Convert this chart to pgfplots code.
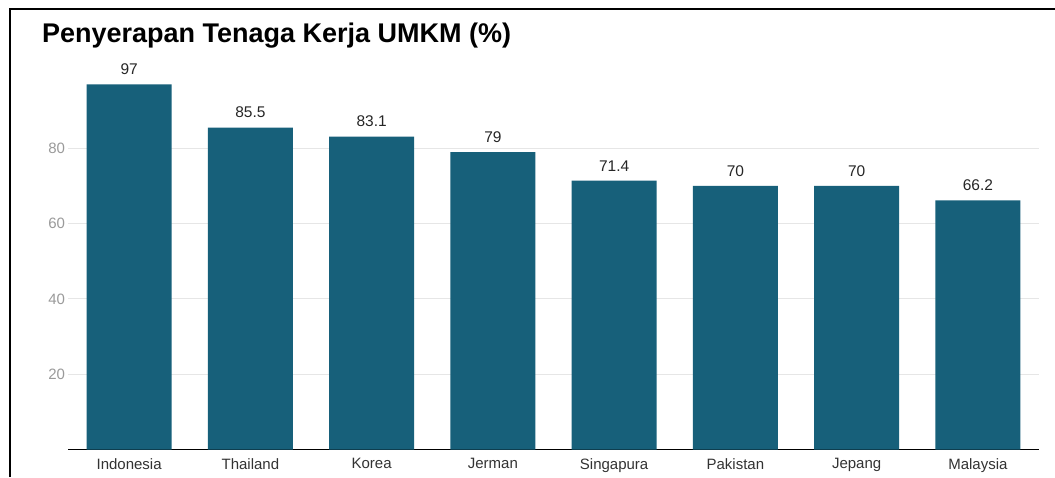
\documentclass[border=0pt]{standalone}
\usepackage{fontspec}
\setmainfont{Liberation Sans}
\usepackage{pgfplots}
\pgfplotsset{compat=1.18}
\definecolor{barc}{HTML}{17607A}
\definecolor{tickc}{HTML}{9A9A9A}
\definecolor{gridc}{HTML}{E6E6E6}
\begin{document}
\begin{tikzpicture}[x=1pt,y=1pt]
\useasboundingbox (-68.5,-27.5) rectangle (986.5,449.5);
\fill[white] (-68.5,-27.5) rectangle (986.5,449.5);
\draw[black,line width=2.5pt] (-58.5,-27.5) -- (-58.5,440.5) -- (986.5,440.5);
\node[anchor=base west,font=\fontsize{27}{32}\selectfont\bfseries] at (-30,406.5) {Penyerapan Tenaga Kerja UMKM (\%)};
\begin{axis}[
  at={(0,0)}, anchor=south west,
  scale only axis, width=970, height=376.5,
  xmin=-0.5, xmax=7.5, ymin=0, ymax=100,
  ybar, bar width=0.7, bar shift=0pt,
  xtick=data,
  xticklabels={Indonesia,Thailand,Korea,Jerman,Singapura,Pakistan,Jepang,Malaysia},
  ytick={20,40,60,80},
  /pgf/number format/assume math mode=true,
  axis lines*=left,
  x axis line style={black,line width=1.2pt,-},
  y axis line style={draw=none},
  xtick style={draw=none}, ytick style={draw=none},
  ymajorgrids, grid style={gridc,line width=1pt},
  xticklabel style={font=\fontsize{15}{18}\selectfont,color=black!80, yshift=-1pt},
  yticklabel style={font=\fontsize{15}{18}\selectfont,color=tickc},
  nodes near coords,
  every node near coord/.append style={font=\fontsize{15.5}{18}\selectfont,color=black!85,yshift=6pt},
  point meta=explicit symbolic,
  clip=false,
]
\addplot[fill=barc,draw=none] table[meta=l] {
x y l
0 97 97
1 85.5 85.5
2 83.1 83.1
3 79 79
4 71.4 71.4
5 70 70
6 70 70
7 66.2 66.2
};
\end{axis}
\end{tikzpicture}
\end{document}
